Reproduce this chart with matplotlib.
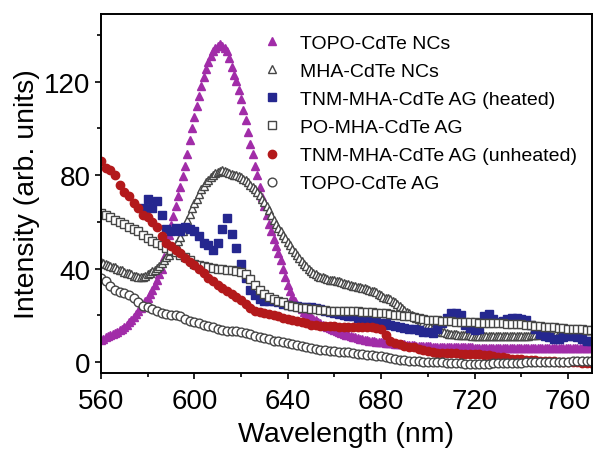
import numpy as np
import matplotlib
matplotlib.use('Agg')
import matplotlib.pyplot as plt
from matplotlib.ticker import MultipleLocator

plt.rcParams['font.family'] = ['Liberation Sans', 'DejaVu Sans']

# TOPO-CdTe NCs, 1 nm steps from 560 nm
topo_nc = [
    9.5, 10.0, 10.5, 11.0, 11.5, 12.0, 12.5, 13.0, 13.7, 14.3,
    15.0, 16.0, 17.0, 18.0, 19.2, 20.5, 21.8, 23.0, 24.5, 26.0,
    27.5, 29.0, 30.8, 32.8, 35.0, 37.5, 40.0, 45.0, 50.0, 54.5,
    58.5, 62.5, 67.0, 71.0, 75.0, 79.5, 84.0, 89.0, 95.0, 100.0,
    105.0, 109.5, 114.0, 118.0, 122.0, 125.5, 128.5, 131.0, 133.0, 134.5,
    135.5, 136.0, 135.5, 134.5, 133.0, 130.0, 126.5, 123.0, 120.5, 116.5,
    112.5, 108.0, 103.5, 98.5, 93.5, 89.0, 84.0, 80.0, 75.0, 70.5,
    67.0, 63.0, 59.0, 56.0, 52.5, 49.5, 46.5, 43.5, 40.0, 36.5,
    33.0, 30.5, 28.0, 26.0, 24.5, 23.5, 22.5, 21.5, 20.7, 20.0,
    19.2, 18.5, 17.8, 17.2, 16.6, 16.0, 15.5, 15.0, 14.5, 14.0,
    13.6, 13.2, 12.8, 12.4, 12.0, 11.7, 11.4, 11.1, 10.8, 10.5,
    10.2, 10.0, 9.8, 9.6, 9.4, 9.2, 9.0, 8.9, 8.7, 8.6,
    8.5, 8.4, 8.3, 8.2, 8.1, 8.0, 7.9, 7.8, 7.7, 7.6,
    7.5, 7.4, 7.3, 7.2, 7.1, 7.0, 7.0, 6.9, 6.8, 6.8,
    6.7, 6.7, 6.6, 6.6, 6.6, 6.5, 6.5, 6.5, 6.5, 6.4,
    6.4, 6.4, 6.4, 6.4, 6.3, 6.3, 6.3, 6.3, 6.3, 6.3,
    6.2, 6.2, 6.2, 6.2, 6.2, 6.2, 6.2, 6.2, 6.2, 6.2,
    6.2, 6.2, 6.2, 6.2, 6.2, 6.2, 6.2, 6.2, 6.2, 6.2,
    6.1, 6.1, 6.1, 6.1, 6.1, 6.1, 6.1, 6.1, 6.1, 6.1,
    6.1, 6.1, 6.1, 6.1, 6.1, 6.1, 6.1, 6.1, 6.1, 6.1,
    6.0, 6.0, 6.0, 6.0, 6.0, 6.0, 6.0, 6.0, 6.0, 6.0,
    6.0]

# MHA-CdTe NCs, 1 nm steps from 560 nm
mha_nc = [
    43.0, 42.5, 42.0, 41.5, 41.2, 40.8, 40.5, 40.0, 39.6, 39.2,
    38.7, 38.3, 37.9, 37.5, 37.0, 36.8, 36.6, 36.5, 36.5, 37.0,
    37.5, 38.0, 38.8, 39.5, 40.2, 41.0, 42.2, 43.5, 44.8, 46.0,
    47.5, 49.0, 50.5, 52.0, 53.5, 56.0, 58.5, 61.0, 63.5, 66.0,
    68.0, 70.0, 72.0, 74.0, 75.5, 77.0, 78.0, 79.0, 80.0, 80.8,
    81.5, 81.8, 82.0, 81.8, 81.5, 81.0, 80.5, 80.2, 80.0, 79.5,
    79.0, 78.5, 77.8, 77.0, 76.0, 75.0, 74.0, 73.0, 71.5, 70.0,
    68.5, 67.0, 65.0, 63.0, 61.0, 59.0, 57.5, 56.0, 54.5, 53.0,
    51.5, 50.0, 48.5, 47.0, 45.8, 44.5, 43.2, 42.0, 41.0, 40.0,
    39.0, 38.2, 37.5, 37.0, 36.6, 36.2, 35.9, 35.6, 35.3, 35.1,
    35.0, 34.8, 34.5, 34.2, 33.8, 33.4, 33.2, 33.0, 32.7, 32.5,
    32.3, 32.1, 31.8, 31.6, 31.4, 31.0, 30.6, 30.2, 29.8, 29.2,
    28.5, 28.0, 27.6, 27.3, 27.0, 26.3, 25.6, 25.0, 24.0, 23.0,
    22.2, 21.5, 20.8, 20.2, 19.6, 19.0, 18.3, 17.6, 17.0, 16.4,
    15.8, 15.2, 14.7, 14.2, 13.8, 13.4, 13.0, 12.7, 12.4, 12.2,
    12.0, 11.9, 11.8, 11.7, 11.6, 11.5, 11.5, 11.4, 11.4, 11.3,
    11.3, 11.3, 11.2, 11.2, 11.2, 11.1, 11.1, 11.1, 11.0, 11.0,
    11.0, 11.0, 11.0, 11.0, 11.0, 11.0, 11.0, 11.1, 11.1, 11.1,
    11.2, 11.2, 11.3, 11.3, 11.4, 11.5, 11.6, 11.7, 11.8, 11.9,
    12.0, 12.1, 12.2, 12.3, 12.4, 12.5, 12.6, 12.7, 12.8, 12.9,
    13.0, 13.1, 13.2, 13.3, 13.4, 13.5, 13.5, 13.6, 13.6, 13.7,
    13.7]

# TNM-MHA-CdTe AG (heated), 2 nm steps from 578 nm
tnm_heated = [
    66, 70, 66, 69, 63, 57, 56, 57.5, 56, 58,
    57, 56, 54, 51, 50, 48, 51, 57, 61.5, 55,
    49, 42, 36, 31, 28.5, 27, 26, 26, 26, 25.5,
    25, 24.5, 24, 23.8, 23.5, 23.5, 23.5, 23, 22.5, 22,
    21.5, 21, 20.5, 20, 19.8, 19.5, 19, 18.5, 18, 17.5,
    17, 16.8, 16.5, 16, 15.5, 15, 14.5, 14, 14, 13.5,
    13, 13, 12.5, 14, 16.5, 19, 21, 21, 20, 16,
    14.5, 13.5, 14, 19.5, 20.5, 18.5, 17, 17.5, 18.5, 19,
    19, 18.5, 18, 16, 14, 12, 11, 10.5, 10, 10,
    10.5, 11, 11, 10.5, 10, 9, 9]

# PO-MHA-CdTe AG, 2 nm steps from 560 nm
po_mha = [
    64, 63, 62, 61, 60, 59, 58, 57, 56, 54.5,
    53, 52, 51, 50, 49, 48, 47, 46, 45, 43.5,
    42, 41.5, 41, 40.5, 40.3, 40, 40, 39.5, 39.5, 39,
    38.7, 37.5, 35.7, 33, 31, 29, 28, 27, 26.3, 25.8,
    24.5, 24, 23.5, 23, 23, 22.5, 22.5, 22.3, 22.2, 22,
    22, 22, 21.9, 21.8, 21.8, 21.7, 21.6, 21.5, 21.3, 21,
    21, 20.8, 20.5, 20.3, 20, 19.8, 19.5, 19.2, 19, 18.5,
    18.2, 18, 17.8, 17.6, 17.5, 17.4, 17.3, 17.2, 17.1, 17,
    17, 16.9, 16.8, 16.8, 16.7, 16.6, 16.5, 16.4, 16.3, 16.2,
    16.1, 16, 15.8, 15.6, 15.4, 15.2, 15, 14.8, 14.6, 14.4,
    14.3, 14.2, 14.1, 14, 13.9, 13.8]

# TNM-MHA-CdTe AG (unheated), 2 nm steps from 560 nm
tnm_unheated = [
    86, 83, 82, 80, 76, 73, 71, 68, 66, 63,
    62, 60, 58, 54, 51, 49.5, 48, 46.5, 44.5, 43,
    41.5, 40, 38, 36, 34.5, 33, 31.5, 30.5, 29, 28,
    26.5, 25, 23, 22, 21.5, 21, 20.5, 20, 19.5, 18.8,
    18.5, 18, 17.5, 17, 16.5, 16, 16, 15.5, 15.5, 15.5,
    15.5, 15, 15.2, 15, 15, 15, 15, 15, 14.8, 14.5,
    14, 11.5, 9, 8, 7.5, 7, 6.5, 6.3, 5.5, 5,
    4.5, 4.3, 4, 4, 4, 3.8, 3.7, 3.6, 3.5, 3.5,
    3.4, 3.3, 3, 2.8, 2.5, 2.2, 2, 1.8, 1.5, 1.3,
    1.2, 1.0, 0.9, 0.8, 0.6, 0.5, 0.4, 0.3, 0.2, 0.1,
    0, 0, -0.2, -0.3, -0.4, -0.5]

# TOPO-CdTe AG, 2 nm steps from 560 nm
topo_ag = [
    36, 34.5, 32.5, 31, 30, 29.5, 28.5, 27.5, 25.5, 24,
    23.5, 22.8, 22, 21, 20.6, 20.2, 20, 19.8, 18.5, 17.5,
    17, 16.5, 16, 15.5, 15, 14.3, 13.8, 13.3, 13.2, 13.1,
    13, 12.5, 12, 11.2, 10.7, 10.2, 9.7, 9.2, 8.8, 8.4,
    8, 7.7, 7.2, 6.8, 6.3, 5.8, 5.5, 5.3, 5, 4.8,
    4.6, 4.4, 4.3, 4.1, 3.8, 3.5, 3.3, 3, 2.8, 2.6,
    2.4, 2, 1.6, 1.2, 0.9, 0.7, 0.5, 0.4, 0.3, 0.2,
    0.1, 0, -0.1, -0.2, -0.3, -0.4, -0.5, -0.6, -0.7, -0.8,
    -0.8, -0.8, -0.7, -0.7, -0.6, -0.6, -0.5, -0.5, -0.4, -0.3,
    -0.3, -0.2, -0.2, -0.1, 0, 0, 0.1, 0.1, 0.2, 0.2,
    0.2, 0.3, 0.3, 0.3, 0.3, 0.3]

labels = ['TOPO-CdTe NCs', 'MHA-CdTe NCs', 'TNM-MHA-CdTe AG (heated)',
          'PO-MHA-CdTe AG', 'TNM-MHA-CdTe AG (unheated)', 'TOPO-CdTe AG']


def xs(start, step, ys):
    return start + step * np.arange(len(ys))


grey = '#464646'
fig = plt.figure(figsize=(5.94, 4.52), dpi=100)
ax = fig.add_axes([0.170, 0.1726, 0.8266, 0.7942])

ax.plot(xs(560, 1, topo_nc), topo_nc, ls='none', marker='^', ms=6.2,
        color='#a12ca8', mec='#a12ca8', label=labels[0])
ax.plot(xs(560, 1, mha_nc), mha_nc, ls='none', marker='^', ms=6,
        mfc='white', mec=grey, mew=1.0, label=labels[1])
ax.plot(xs(578, 2, tnm_heated), tnm_heated, ls='none', marker='s', ms=5.5,
        color='#25278f', label=labels[2])
ax.plot(xs(560, 2, po_mha), po_mha, ls='none', marker='s', ms=5.5,
        mfc='white', mec=grey, mew=1.0, label=labels[3])
ax.plot(xs(560, 2, tnm_unheated), tnm_unheated, ls='none', marker='o', ms=6,
        color='#b3191b', label=labels[4])
ax.plot(xs(560, 2, topo_ag), topo_ag, ls='none', marker='o', ms=6.3,
        mfc='white', mec=grey, mew=1.0, label=labels[5])

ax.set_xlim(560, 770.3)
ax.set_ylim(-4.7, 149)
ax.xaxis.set_major_locator(MultipleLocator(40))
ax.xaxis.set_minor_locator(MultipleLocator(20))
ax.yaxis.set_major_locator(MultipleLocator(40))
ax.yaxis.set_minor_locator(MultipleLocator(20))
ax.tick_params(which='both', direction='out', width=1.2, labelsize=20)
ax.tick_params(which='major', length=4.5)
ax.tick_params(axis='x', which='major', pad=6)
ax.tick_params(axis='y', which='major', pad=3)
ax.tick_params(which='minor', length=3)
for s in ax.spines.values():
    s.set_linewidth(1.4)

ax.set_xlabel('Wavelength (nm)', fontsize=20.5, labelpad=5)
ax.set_ylabel('Intensity (arb. units)', fontsize=20.5, labelpad=3)

ax.legend(loc='upper left', bbox_to_anchor=(0.442, 0.922),
          bbox_transform=fig.transFigure, frameon=False, fontsize=14,
          handlelength=1.0, handletextpad=0.95, labelspacing=0.54,
          borderpad=0, borderaxespad=0, markerscale=1.0)

fig.savefig('out.png', dpi=100)
